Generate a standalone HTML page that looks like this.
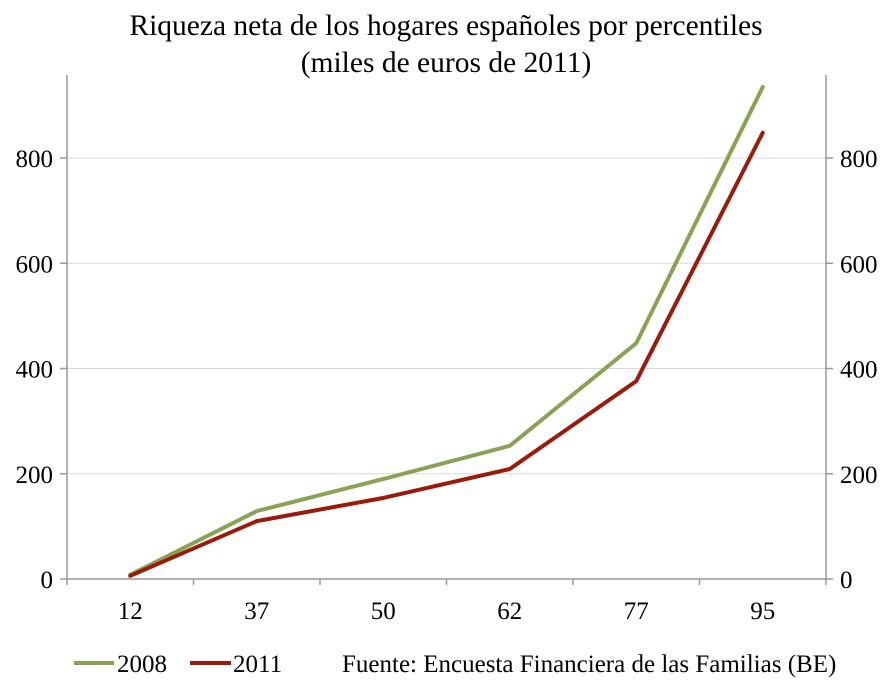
<!DOCTYPE html>
<html><head><meta charset="utf-8"><style>
body{margin:0;background:#fff;}
svg text{font-family:"Liberation Serif",serif;fill:#000;}
</style></head><body>
<svg id="chart" width="891" height="690" xmlns="http://www.w3.org/2000/svg">
<text x="446" y="35" font-size="29.5" text-anchor="middle">Riqueza neta de los hogares españoles por percentiles</text>
<text x="446" y="72" font-size="29.5" text-anchor="middle">(miles de euros de 2011)</text>
<g id="grid"></g>
<g id="axes"></g>
<g id="series"></g>
<g>
<line x1="74" y1="663" x2="114" y2="663" stroke="#8aa254" stroke-width="4"/>
<text x="117" y="672" font-size="25">2008</text>
<line x1="190" y1="663" x2="231" y2="663" stroke="#9b1a0a" stroke-width="4"/>
<text x="233" y="672" font-size="25">2011</text>
<text x="342" y="672" font-size="25">Fuente: Encuesta Financiera de las Familias (BE)</text>
</g>
</svg>
<script>
const categories=["12","37","50","62","77","95"];
const values2008=[8,129,190,253,448,935];
const values2011=[6,110,154,209,376,848];
const yTicks=[0,200,400,600,800];
const X0=67,X1=826,Y0=579,YPER=421/800;
const band=(X1-X0)/categories.length;
const xs=i=>X0+band*(i+0.5);
const ys=v=>Y0-v*YPER;
const NS="http://www.w3.org/2000/svg";
function mk(p,tag,attrs){const e=document.createElementNS(NS,tag);for(const k in attrs)e.setAttribute(k,attrs[k]);document.getElementById(p).appendChild(e);return e;}
yTicks.forEach(t=>{
 if(t>0){const g=mk('grid','line',{x1:X0,x2:X1,y1:ys(t),y2:ys(t),stroke:'#d9d9d9','stroke-width':1});
 
 }
 const tl=mk('axes','line',{x1:X0-7,x2:X0,y1:ys(t),y2:ys(t),stroke:'#999','stroke-width':1.5});
 
 
 const tr=mk('axes','line',{x1:X1,x2:X1+7,y1:ys(t),y2:ys(t),stroke:'#999','stroke-width':1.5});
 
 
 const a=mk('axes','text',{x:X0-14,y:ys(t)+9,'font-size':25,'text-anchor':'end'});a.textContent=t;
 
 
 const b=mk('axes','text',{x:X1+14,y:ys(t)+9,'font-size':25,'text-anchor':'start'});b.textContent=t;
 
 
});
[[X0,'y-axis-left'],[X1,'y-axis-right']].forEach(([x,n])=>{const l=mk('axes','line',{x1:x,x2:x,y1:75,y2:Y0,stroke:'#999','stroke-width':1.5});
 
 });
const xa=mk('axes','line',{x1:X0,x2:X1,y1:Y0,y2:Y0,stroke:'#999','stroke-width':1.5});


for(let i=0;i<=categories.length;i++){const t=mk('axes','line',{x1:X0+band*i,x2:X0+band*i,y1:Y0,y2:Y0+6,stroke:'#999','stroke-width':1.5});
 
 }
categories.forEach((c,i)=>{const t=mk('axes','text',{x:xs(i),y:619,'font-size':25,'text-anchor':'middle'});t.textContent=c;
 
 });
[[values2008,'#8aa254','line-2008'],[values2011,'#9b1a0a','line-2011']].forEach(([v,c,n])=>{
 const p=mk('series','polyline',{points:v.map((d,i)=>xs(i)+','+ys(d)).join(' '),fill:'none',stroke:c,'stroke-width':4,'stroke-linejoin':'round','stroke-linecap':'round'});
 
 
});
</script>
</body></html>
